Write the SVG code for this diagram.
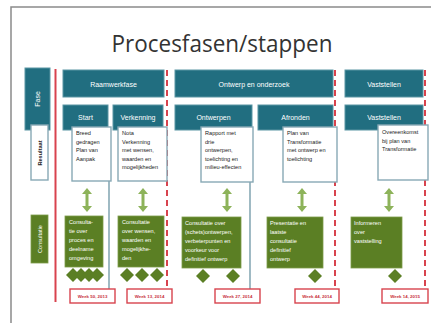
<svg xmlns="http://www.w3.org/2000/svg" width="431" height="323" viewBox="0 0 431 323">
<defs>
<style>
.teal{fill:#216e80;stroke:#5b95a3;stroke-width:1}
.res{fill:#ffffff;stroke:#88a9b5;stroke-width:1.4}
.grn{fill:#5b7f24;stroke:#7d9c4a;stroke-width:0.8}
.dia{fill:#5b7f24}
.date{fill:#ffffff;stroke:#d8434e;stroke-width:1.4}
.red{stroke:#d8434e;stroke-width:2;fill:none}
.dash{stroke:#d8434e;stroke-width:2;stroke-dasharray:6,4;fill:none}
.blue{stroke:#88a9b5;stroke-width:1.6;fill:none}
.wt{font-family:"Liberation Sans",Arial,sans-serif;fill:#ffffff;font-size:7px;text-anchor:middle}
.rt{font-family:"Liberation Sans",Arial,sans-serif;fill:#222222;font-size:5.6px}
.ct{font-family:"Liberation Sans",Arial,sans-serif;fill:#ffffff;font-size:5.6px}
.dt{font-family:"Liberation Sans",Arial,sans-serif;fill:#c8303c;font-size:4.4px;font-weight:bold;text-anchor:middle}
.arr{fill:#8db35a}
</style>
<g id="dbl">
<polygon class="arr" points="0,0 5,6 1.5,6 1.5,18 5,18 0,24 -5,18 -1.5,18 -1.5,6 -5,6"/>
</g>
<polygon id="dm" points="0,-7 7,0 0,7 -7,0"/>
</defs>
<rect x="11" y="7" width="440" height="340" fill="#ffffff" stroke="#8a8a8a" stroke-width="1.5"/>
<text x="222" y="52" font-family="'Open Sans','Liberation Sans',sans-serif" font-size="23" fill="#333333" text-anchor="middle" textLength="221" lengthAdjust="spacingAndGlyphs">Procesfasen/stappen</text>

<g id="connectors">
<line class="red" x1="55.5" y1="69" x2="55.5" y2="302"/>
<line class="dash" x1="167" y1="70" x2="167" y2="290"/>
<line class="dash" x1="335" y1="70" x2="335" y2="290"/>
<line class="dash" x1="425" y1="70" x2="425" y2="290"/>
<line class="blue" x1="109" y1="180" x2="109" y2="290"/>
<line class="blue" x1="250" y1="181" x2="250" y2="290"/>
<use href="#dbl" x="87" y="188"/>
<use href="#dbl" x="143" y="188"/>
<use href="#dbl" x="227" y="188"/>
<use href="#dbl" x="302" y="188"/>
<use href="#dbl" x="389" y="188"/>
</g>

<g id="fase"><rect class="teal" x="25" y="68" width="25" height="62"/><text class="wt" transform="translate(40,99) rotate(-90)" font-size="6">Fase</text></g>
<g id="resultaat"><rect class="res" x="31" y="125" width="17" height="55"/><text class="rt" transform="translate(41.5,153) rotate(-90)" text-anchor="middle" font-weight="bold" font-size="5.4">Resultaat</text></g>
<g id="consultatie"><rect class="grn" x="31" y="215" width="17" height="48"/><text class="ct" transform="translate(41.5,239) rotate(-90)" text-anchor="middle" font-size="5.4">Consultatie</text></g>

<g id="raamwerkfase"><rect class="teal" x="63" y="70" width="101" height="27"/><text class="wt" x="113.5" y="86.5">Raamwerkfase</text></g>
<g id="ontwerp-onderzoek"><rect class="teal" x="175" y="70" width="158" height="27"/><text class="wt" x="254" y="86.5">Ontwerp en onderzoek</text></g>
<g id="vaststellen-fase"><rect class="teal" x="345" y="70" width="78" height="27"/><text class="wt" x="384" y="86.5">Vaststellen</text></g>

<g id="start"><rect class="teal" x="63" y="105" width="45" height="25"/><text class="wt" x="85.5" y="120">Start</text></g>
<g id="verkenning"><rect class="teal" x="113" y="105" width="50" height="25"/><text class="wt" x="138" y="120">Verkenning</text></g>
<g id="ontwerpen"><rect class="teal" x="175" y="105" width="77" height="25"/><text class="wt" x="213.5" y="120">Ontwerpen</text></g>
<g id="afronden"><rect class="teal" x="258" y="105" width="75" height="25"/><text class="wt" x="295.5" y="120">Afronden</text></g>
<g id="vaststellen-stap"><rect class="teal" x="345" y="105" width="78" height="25"/><text class="wt" x="384" y="120">Vaststellen</text></g>

<g id="res-start"><rect class="res" x="72" y="127" width="39" height="54"/>
<text class="rt"><tspan x="76" y="135">Breed</tspan><tspan x="76" y="143.5">gedragen</tspan><tspan x="76" y="152">Plan van</tspan><tspan x="76" y="160.5">Aanpak</tspan></text></g>
<g id="res-verkenning"><rect class="res" x="118" y="127" width="49" height="54"/>
<text class="rt"><tspan x="122" y="135">Nota</tspan><tspan x="122" y="143.5">Verkenning</tspan><tspan x="122" y="152">met wensen,</tspan><tspan x="122" y="160.5">waarden en</tspan><tspan x="122" y="169">mogelijkheden</tspan></text></g>
<g id="res-ontwerpen"><rect class="res" x="201" y="127" width="52" height="55"/>
<text class="rt"><tspan x="205" y="135">Rapport met</tspan><tspan x="205" y="143.5">drie</tspan><tspan x="205" y="152">ontwerpen,</tspan><tspan x="205" y="160.5">toelichting en</tspan><tspan x="205" y="169">milieu-effecten</tspan></text></g>
<g id="res-afronden"><rect class="res" x="283" y="127" width="54" height="55"/>
<text class="rt"><tspan x="287" y="135">Plan van</tspan><tspan x="287" y="143.5">Transformatie</tspan><tspan x="287" y="152">met ontwerp en</tspan><tspan x="287" y="160.5">toelichting</tspan></text></g>
<g id="res-vaststellen"><rect class="res" x="378" y="125" width="50" height="55"/>
<text class="rt"><tspan x="382" y="134">Overeenkomst</tspan><tspan x="382" y="142.5">bij plan van</tspan><tspan x="382" y="151">Transformatie</tspan></text></g>

<g id="con-start"><rect class="grn" x="65" y="216" width="38" height="51"/>
<use href="#dm" class="dia" x="73" y="275"/><use href="#dm" class="dia" x="81" y="275"/><use href="#dm" class="dia" x="89" y="275"/><use href="#dm" class="dia" x="97" y="275"/>
<text class="ct"><tspan x="69" y="224">Consulta-</tspan><tspan x="69" y="233">tie over</tspan><tspan x="69" y="242">proces en</tspan><tspan x="69" y="251">deelname</tspan><tspan x="69" y="260">omgeving</tspan></text></g>
<g id="con-verkenning"><rect class="grn" x="118" y="216" width="46" height="51"/>
<use href="#dm" class="dia" x="127" y="275"/><use href="#dm" class="dia" x="142" y="275"/><use href="#dm" class="dia" x="157" y="275"/>
<text class="ct"><tspan x="122" y="224">Consultatie</tspan><tspan x="122" y="233">over wensen,</tspan><tspan x="122" y="242">waarden en</tspan><tspan x="122" y="251">mogelijkhe-</tspan><tspan x="122" y="260">den</tspan></text></g>
<g id="con-ontwerpen"><rect class="grn" x="182" y="217" width="59" height="51"/>
<use href="#dm" class="dia" x="203" y="276"/><use href="#dm" class="dia" x="233" y="276"/>
<text class="ct"><tspan x="185" y="225">Consultatie over</tspan><tspan x="185" y="234">(schets)ontwerpen,</tspan><tspan x="185" y="243">verbeterpunten en</tspan><tspan x="185" y="252">voorkeur voor</tspan><tspan x="185" y="261">definitief ontwerp</tspan></text></g>
<g id="con-afronden"><rect class="grn" x="267" y="217" width="56" height="51"/>
<use href="#dm" class="dia" x="315" y="276"/>
<text class="ct"><tspan x="270" y="225">Presentatie en</tspan><tspan x="270" y="234">laatste</tspan><tspan x="270" y="243">consultatie</tspan><tspan x="270" y="252">definitief</tspan><tspan x="270" y="261">ontwerp</tspan></text></g>
<g id="con-vaststellen"><rect class="grn" x="351" y="217" width="51" height="51"/>
<use href="#dm" class="dia" x="395" y="276"/>
<text class="ct"><tspan x="354" y="225">Informeren</tspan><tspan x="354" y="234">over</tspan><tspan x="354" y="243">vaststelling</tspan></text></g>

<g id="date1"><rect class="date" x="70" y="289" width="45" height="14"/><text class="dt" x="92.5" y="297.5">Week 50, 2013</text></g>
<g id="date2"><rect class="date" x="127" y="289" width="45" height="14"/><text class="dt" x="149.5" y="297.5">Week 13, 2014</text></g>
<g id="date3"><rect class="date" x="215" y="289" width="45" height="14"/><text class="dt" x="237.5" y="297.5">Week 27, 2014</text></g>
<g id="date4"><rect class="date" x="295" y="289" width="44" height="14"/><text class="dt" x="317" y="297.5">Week 44, 2014</text></g>
<g id="date5"><rect class="date" x="382" y="289" width="46" height="14"/><text class="dt" x="405" y="297.5">Week 14, 2015</text></g>
</svg>
